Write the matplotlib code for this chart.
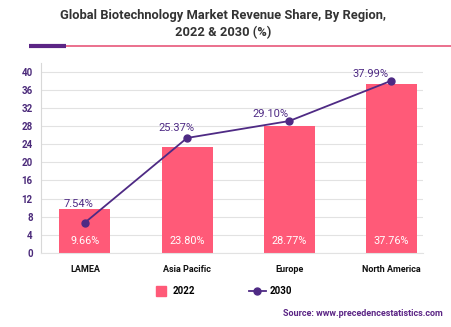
import matplotlib
matplotlib.use("Agg")
import matplotlib.pyplot as plt
from matplotlib.lines import Line2D

categories = ["LAMEA", "Asia Pacific", "Europe", "North America"]
values_2022 = [9.66, 23.4, 28.0, 37.3]
labels_2022 = ["9.66%", "23.80%", "28.77%", "37.76%"]
values_2030 = [6.7, 25.37, 29.10, 37.99]
labels_2030 = ["7.54%", "25.37%", "29.10%", "37.99%"]
yticks = [0, 4, 8, 12, 16, 20, 24, 28, 32, 36, 40]

PINK = "#ff5a78"
PURPLE = "#4e2a84"
TICKPURPLE = "#4b2a7a"

plt.rcParams["font.family"] = ["Roboto", "DejaVu Sans"]

fig = plt.figure(figsize=(4.52, 3.27), dpi=100)
ax = fig.add_axes([41/452, 1-253/327, (423-41)/452, (253-63)/327])

x = list(range(len(categories)))
ax.bar(x, values_2022, width=0.5, color=PINK, zorder=2)
ax.plot(x, values_2030, color=PURPLE, lw=1.3, marker="o", ms=5, zorder=3)

for xi, lab in zip(x, labels_2022):
    ax.annotate(lab, (xi, 0), xytext=(0, 12), textcoords="offset pixels",
                ha="center", va="center", color="white", fontsize=7.8, zorder=4)

offsets = [(-6, 19), (-11, 10), (-19, 7), (-21, 7)]
for xi, v, lab, off in zip(x, values_2030, labels_2030, offsets):
    ax.annotate(lab, (xi, v), xytext=off, textcoords="offset pixels",
                ha="center", va="center", color=PURPLE, fontsize=8, zorder=4)

ax.set_xlim(-0.43, 3.31)
ax.set_ylim(0, 41.9)
ax.set_yticks(yticks)
ax.set_yticklabels([str(t) for t in yticks], color=TICKPURPLE, fontsize=7, fontweight="bold")
ax.set_xticks(x)
ax.set_xticklabels(categories, fontsize=6.5, fontweight="bold", color="#111111")
ax.tick_params(axis="both", length=0, pad=6)
ax.tick_params(axis="x", pad=9)
ax.grid(axis="y", color="#e2e2e2", lw=0.8, zorder=0)
for s in ["top", "right"]:
    ax.spines[s].set_visible(False)
ax.spines["left"].set_color("#d8d8d8")
ax.spines["bottom"].set_color("#e2e2e2")

fig.text(223/452, 1-16/327, "Global Biotechnology Market Revenue Share, By Region,",
         ha="center", va="center", fontsize=9.3, fontweight="bold", color="#333333")
fig.text(223/452, 1-33/327, "2022 & 2030 (%)",
         ha="center", va="center", fontsize=9.3, fontweight="bold", color="#333333")

fig.add_artist(Line2D([66/452, 1.0], [1-46/327, 1-46/327], color="#e8577a", lw=1.2))
fig.add_artist(Line2D([29/452, 66/452], [1-46/327, 1-46/327], color="#5b2585", lw=3.0,
                      solid_capstyle="butt"))

handles = [Line2D([0], [0], color=PINK, marker="s", ms=7, lw=0, label="2022"),
           Line2D([0], [0], color=PURPLE, marker="o", ms=5, lw=1.3, label="2030")]
leg = fig.legend(handles=handles, loc="center", bbox_to_anchor=(222/452, 1-291/327),
                 ncol=2, frameon=False, fontsize=7, columnspacing=5.5, handlelength=1.8,
                 handletextpad=0.3)
for t in leg.get_texts():
    t.set_fontweight("bold")

fig.text(443/452, 1-314/327, "Source: www.precedencestatistics.com", ha="right",
         va="center", fontsize=6.5, fontweight="bold", color="#5b2585")

fig.savefig("out.png", dpi=100)
